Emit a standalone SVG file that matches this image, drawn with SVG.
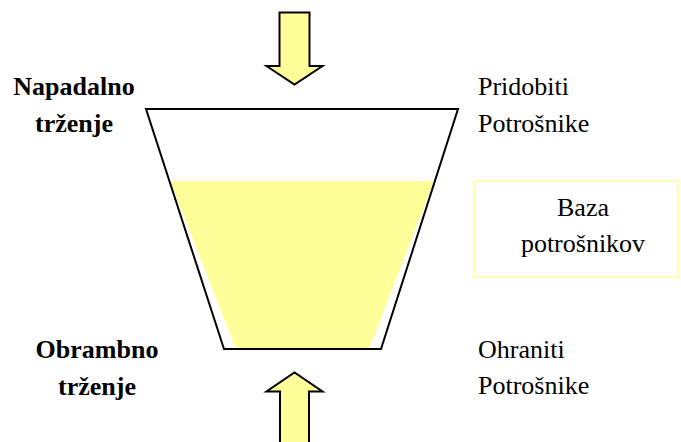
<svg xmlns="http://www.w3.org/2000/svg" width="681" height="442" viewBox="0 0 681 442">
<style>
.arrow{fill:#FFFF99;stroke:#000;stroke-width:2;stroke-linejoin:miter}
</style>
<rect width="681" height="442" fill="#fff"/>
<g id="funnel">
<polygon points="146,109 458,109 381,349 224,349" fill="#fff" stroke="none"/>
<polygon points="170,181 434,181 369,349 236,349" fill="#FFFF99"/>
<polygon points="146,109 458,109 381,349 224,349" fill="none" stroke="#000" stroke-width="2"/>
</g>
<g id="connectors">
<polygon class="arrow" points="279.5,12.5 309.5,12.5 309.5,66 322.5,66 294.5,84.5 266.5,66 279.5,66"/>
<polygon class="arrow" points="280,445 309,445 309,391.5 322.5,391.5 294.5,372.5 266.5,391.5 280,391.5"/>
</g>
<g id="napadalno">
<text x="74" y="94.5" font-family="'Liberation Serif'" font-size="26" font-weight="bold" text-anchor="middle">Napadalno</text>
<text x="74" y="131.5" font-family="'Liberation Serif'" font-size="26" font-weight="bold" text-anchor="middle">trženje</text>
</g>
<g id="obrambno">
<text x="97" y="357.5" font-family="'Liberation Serif'" font-size="26" font-weight="bold" text-anchor="middle">Obrambno</text>
<text x="97" y="395" font-family="'Liberation Serif'" font-size="26" font-weight="bold" text-anchor="middle">trženje</text>
</g>
<g id="pridobiti">
<text x="478" y="95" font-family="'Liberation Serif'" font-size="26">Pridobiti</text>
<text x="478" y="131.5" font-family="'Liberation Serif'" font-size="26">Potrošnike</text>
</g>
<g id="ohraniti">
<text x="478" y="358" font-family="'Liberation Serif'" font-size="26">Ohraniti</text>
<text x="478" y="394" font-family="'Liberation Serif'" font-size="26">Potrošnike</text>
</g>
<g id="baza">
<rect x="474" y="181" width="204" height="96" fill="none" stroke="#FFFF99" stroke-width="1.5"/>
<text x="583" y="215.5" font-family="'Liberation Serif'" font-size="26" text-anchor="middle">Baza</text>
<text x="583" y="252" font-family="'Liberation Serif'" font-size="26" text-anchor="middle">potrošnikov</text>
</g>
</svg>
